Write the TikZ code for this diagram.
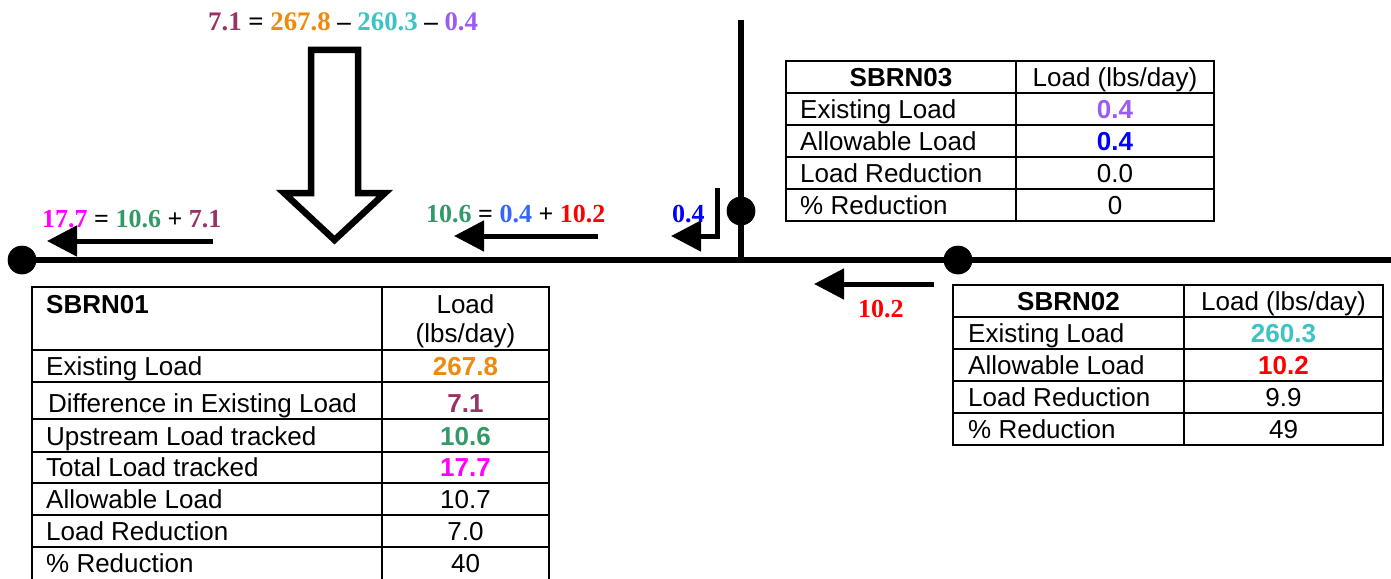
\documentclass[tikz,border=0pt]{standalone}
\usepackage{fontspec}
\usetikzlibrary{arrows.meta}
\newfontfamily\tabfamily{Liberation Sans}
\newfontfamily\eqfamily{Liberation Serif}
\newcommand\tabfont{\tabfamily\fontsize{26}{30}\selectfont}
\newcommand\eqfont{\eqfamily\bfseries\fontsize{26}{30}\selectfont}
\newcommand\topeqfont{\eqfamily\bfseries\fontsize{26.8}{30}\selectfont}
\definecolor{plum}{HTML}{993366}
\definecolor{amber}{HTML}{EE8A0E}
\definecolor{aqua}{HTML}{3CC3C3}
\definecolor{violet}{HTML}{9A5CF5}
\definecolor{seagreen}{HTML}{339966}
\definecolor{skyblue}{HTML}{3366FF}
\definecolor{pureblue}{HTML}{0000FF}
\definecolor{purered}{HTML}{FF0000}
\definecolor{pink}{HTML}{FF00FF}
\tikzset{
  pipe/.style={line width=5.5pt},
  junction/.style={circle, fill=black, minimum size=28.5pt, inner sep=0pt},
  flow/.style={line width=5pt, line join=miter, -{Triangle[length=30pt,width=30pt]}},
  bigarrow/.style={line width=6.5pt, line join=miter, fill=white},
  grid/.style={line width=2pt},
  lbl/.style={anchor=base west, inner sep=0pt, font=\tabfont},
  val/.style={anchor=base, inner sep=0pt, font=\tabfont},
  hdr/.style={anchor=base, inner sep=0pt, font=\tabfont\bfseries},
  eq/.style={anchor=base west, inner sep=0pt, font=\eqfont},
}
\begin{document}
\begin{tikzpicture}[x=1pt, y=-1pt]
\useasboundingbox (0,0) rectangle (1391,578);
\fill[white] (0,0) rectangle (1391,578);

% stream network
\coordinate (east) at (1391,260);
\coordinate (top) at (741,20);
\coordinate (confl) at (741,260);
\node[junction] (n1) at (22,260) {};
\node[junction] (n3) at (741,211) {};
\node[junction] (n2) at (958,260) {};
\draw[pipe] (n1.center) -- (east);
\draw[pipe] (top) -- (confl);
\node[junction] at (n1) {};
\node[junction] at (n3) {};
\node[junction] at (n2) {};

% hollow arrow for the difference in existing load
\draw[bigarrow] (311,50) -- (358,50) -- (358,193) -- (385,193) -- (334.5,240)
  -- (284,193) -- (311,193) -- cycle;

% flow arrows
\coordinate (f1s) at (213,241);  \coordinate (f1e) at (47,241);
\coordinate (f2s) at (598,236);  \coordinate (f2e) at (454,236);
\coordinate (f3s) at (717.5,188); \coordinate (f3e) at (671,236);
\coordinate (f4s) at (934,284);  \coordinate (f4e) at (814,284);
\draw[flow] (f1s) -- (f1e);
\draw[flow] (f2s) -- (f2e);
\draw[flow] (f3s) |- (f3e);
\draw[flow] (f4s) -- (f4e);

% load balance labels
\node[eq, font=\topeqfont] (eqtop) at (208,31) {\textcolor{plum}{7.1} = \textcolor{amber}{267.8} – \textcolor{aqua}{260.3} – \textcolor{violet}{0.4}};
\node[eq] (eqtotal) at (42,227) {\textcolor{pink}{17.7} = \textcolor{seagreen}{10.6} + \textcolor{plum}{7.1}};
\node[eq] (equp) at (426,222) {\textcolor{seagreen}{10.6} = \textcolor{skyblue}{0.4} + \textcolor{purered}{10.2}};
\node[eq] (eqn3) at (672,222) {\textcolor{pureblue}{0.4}};
\node[eq] (eqn2) at (858,317) {\textcolor{purered}{10.2}};

% table SBRN03
\draw[grid] (786,61) rectangle (1214,221);
\draw[grid] (1016,61) -- (1016,221);
\foreach \y in {93,125,157,189} \draw[grid] (786,\y) -- (1214,\y);
\node[hdr] (t3h) at (901,86) {SBRN03};
\node[val] (t3u) at (1115,86) {Load (lbs/day)};
\node[lbl] (t3a) at (800,118) {Existing Load};
\node[val, text=violet, font=\tabfont\bfseries] (t3av) at (1115,118) {0.4};
\node[lbl] (t3b) at (800,150) {Allowable Load};
\node[val, text=pureblue, font=\tabfont\bfseries] (t3bv) at (1115,150) {0.4};
\node[lbl] (t3c) at (800,182) {Load Reduction};
\node[val] (t3cv) at (1115,182) {0.0};
\node[lbl] (t3d) at (800,214) {\% Reduction};
\node[val] (t3dv) at (1115,214) {0};

% table SBRN02
\draw[grid] (953,285) rectangle (1383,445);
\draw[grid] (1184,285) -- (1184,445);
\foreach \y in {317,349,381,413} \draw[grid] (953,\y) -- (1383,\y);
\node[hdr] (t2h) at (1068.5,310) {SBRN02};
\node[val] (t2u) at (1283.5,310) {Load (lbs/day)};
\node[lbl] (t2a) at (968,342) {Existing Load};
\node[val, text=aqua, font=\tabfont\bfseries] (t2av) at (1283.5,342) {260.3};
\node[lbl] (t2b) at (968,374) {Allowable Load};
\node[val, text=purered, font=\tabfont\bfseries] (t2bv) at (1283.5,374) {10.2};
\node[lbl] (t2c) at (968,406) {Load Reduction};
\node[val] (t2cv) at (1283.5,406) {9.9};
\node[lbl] (t2d) at (968,438) {\% Reduction};
\node[val] (t2dv) at (1283.5,438) {49};

% table SBRN01
\draw[grid] (32,287) rectangle (549,581);
\draw[grid] (382,287) -- (382,581);
\foreach \y in {350,382,419,452,483,515,547} \draw[grid] (32,\y) -- (549,\y);
\node[lbl, font=\tabfont\bfseries] (t1h) at (46,313) {SBRN01};
\node[val] (t1u) at (465.5,313) {Load};
\node[val] (t1u2) at (465.5,342) {(lbs/day)};
\node[lbl] (t1a) at (46,375) {Existing Load};
\node[val, text=amber, font=\tabfont\bfseries] (t1av) at (465.5,375) {267.8};
\node[lbl] (t1b) at (48,412) {Difference in Existing Load};
\node[val, text=plum, font=\tabfont\bfseries] (t1bv) at (465.5,412) {7.1};
\node[lbl] (t1c) at (46,445) {Upstream Load tracked};
\node[val, text=seagreen, font=\tabfont\bfseries] (t1cv) at (465.5,445) {10.6};
\node[lbl] (t1d) at (46,476) {Total Load tracked};
\node[val, text=pink, font=\tabfont\bfseries] (t1dv) at (465.5,476) {17.7};
\node[lbl] (t1e) at (46,508) {Allowable Load};
\node[val] (t1ev) at (465.5,508) {10.7};
\node[lbl] (t1f) at (46,540) {Load Reduction};
\node[val] (t1fv) at (465.5,540) {7.0};
\node[lbl] (t1g) at (46,572) {\% Reduction};
\node[val] (t1gv) at (465.5,572) {40};
\end{tikzpicture}
\end{document}
